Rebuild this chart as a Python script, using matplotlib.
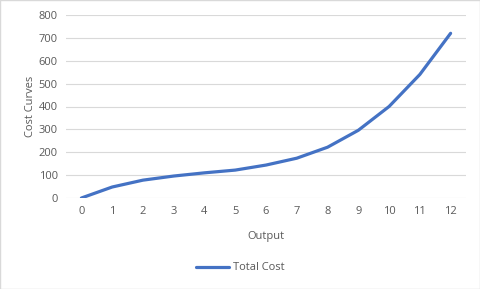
import matplotlib.pyplot as plt
from matplotlib.patches import Rectangle

# data
output = list(range(13))
total_cost = [0, 48, 78, 96, 110, 122, 144, 174, 222, 296, 400, 540, 720]

plt.rcParams['font.family'] = ['Open Sans', 'DejaVu Sans']
grey = '#595959'

fig = plt.figure(figsize=(4.8, 2.89), dpi=100)
ax = fig.add_axes([66 / 480, 1 - 198 / 289, 400 / 480, 183 / 289])

ax.plot(output, total_cost, color='#4472C4', lw=2.3, label='Total Cost',
        solid_capstyle='round', solid_joinstyle='round')

ax.set_xlim(-0.5, 12.5)
ax.set_ylim(0, 800)
ax.set_xticks(output)
ax.set_yticks(range(0, 801, 100))
ax.tick_params(length=0, labelsize=8, labelcolor=grey, pad=6)
ax.grid(axis='y', color='#D9D9D9', lw=0.8)
ax.set_axisbelow(True)
for s in ax.spines.values():
    s.set_visible(False)

ax.set_xlabel('Output', fontsize=8, color=grey, labelpad=10)
ax.set_ylabel('Cost Curves', fontsize=8, color=grey, labelpad=2)

fig.legend(loc='center', bbox_to_anchor=(0.5, 1 - 268 / 289), frameon=False,
           fontsize=8, labelcolor=grey, handlelength=3, handletextpad=0.3)

fig.patches.append(Rectangle((0, 0), 1, 1, transform=fig.transFigure,
                             fill=False, edgecolor='#D9D9D9', lw=1))

fig.savefig('out.png', dpi=100)
